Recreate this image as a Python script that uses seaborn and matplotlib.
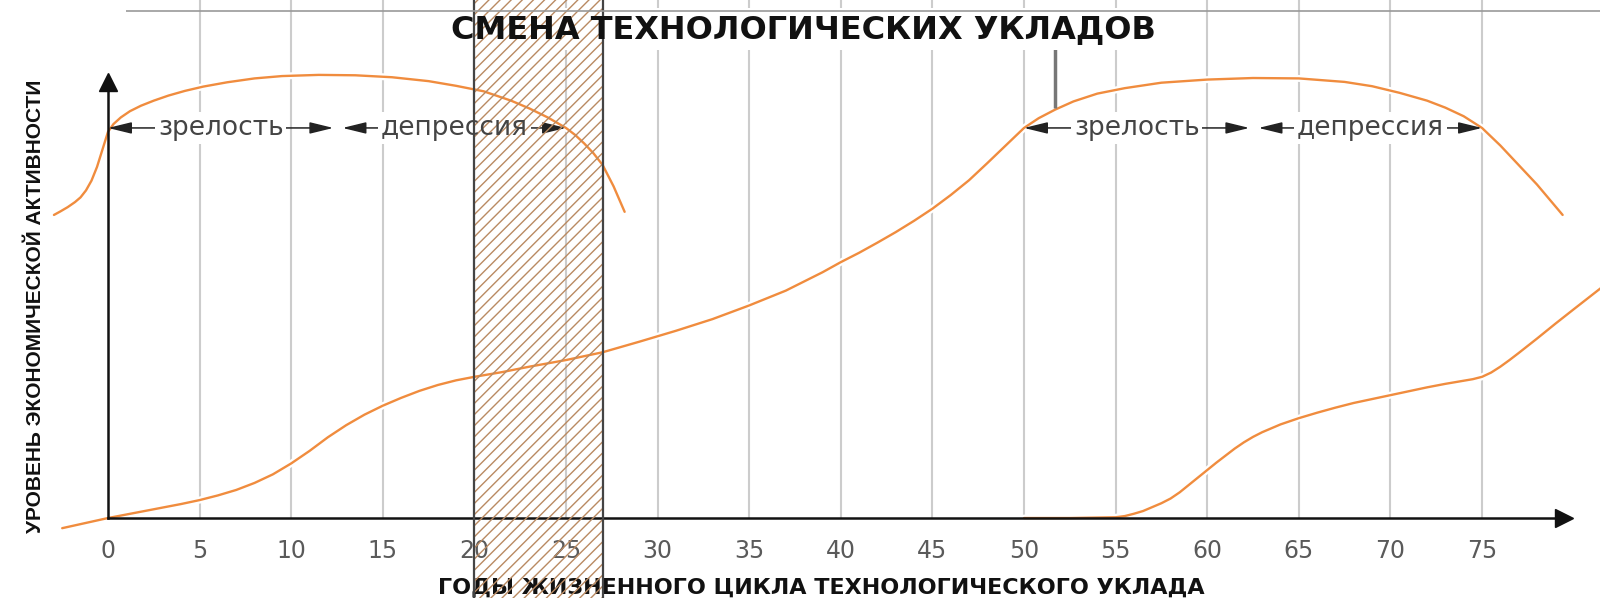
# Смена технологических укладов - recreation with seaborn

import matplotlib
matplotlib.use("Agg")
import pandas as pd
import matplotlib.pyplot as plt
import matplotlib.patheffects as pe
import seaborn as sns

# Data
# wave 1: end of the previous cycle (maturity + depression)
years_1 = [-2.95, -2.6, -2.2, -1.8, -1.5, -1.2, -0.9, -0.6, -0.4, -0.2, 0, 0.3, 0.7, 1.2, 1.8,
           2.5, 3.3, 4.2, 5.2, 6.5, 8.0, 9.5, 11.5, 13.5, 15.5, 17.5, 19.0, 20.5, 22.0, 23.0,
           24.0, 25.0, 25.5, 26.0, 26.5, 27.0, 27.6, 28.2]
level_1 = [0.777, 0.786, 0.797, 0.81, 0.822, 0.84, 0.865, 0.9, 0.93, 0.96, 0.99, 1.01, 1.027,
           1.043, 1.057, 1.07, 1.083, 1.095, 1.106, 1.117, 1.127, 1.133, 1.136, 1.135, 1.13,
           1.12, 1.108, 1.094, 1.07, 1.05, 1.027, 1.0, 0.982, 0.96, 0.935, 0.905, 0.85, 0.785]

# wave 2: the current cycle
years_2 = [-2.5, -1.25, 0, 1, 2, 3, 4, 5, 6, 7, 8, 9, 10, 11, 12, 13, 14, 15, 16, 17, 18, 19,
           20, 21.5, 23, 25, 27, 29, 31, 33, 35, 37, 39, 40, 41, 42, 43, 44, 45, 46, 47, 48, 49,
           50, 50.8, 51.7, 52.7, 54, 55.5, 57.5, 60, 62.5, 65, 67.5, 69, 70.5, 72, 73, 74, 75,
           76, 77, 78, 79.4]
level_2 = [-0.026, -0.013, 0.0, 0.009, 0.018, 0.027, 0.036, 0.046, 0.058, 0.072, 0.09, 0.112,
           0.14, 0.172, 0.207, 0.238, 0.265, 0.288, 0.308, 0.326, 0.341, 0.353, 0.362, 0.374,
           0.388, 0.405, 0.425, 0.452, 0.48, 0.51, 0.545, 0.583, 0.63, 0.656, 0.68, 0.706, 0.733,
           0.762, 0.793, 0.828, 0.866, 0.91, 0.955, 1.0, 1.025, 1.047, 1.068, 1.088, 1.102,
           1.116, 1.124, 1.128, 1.127, 1.118, 1.107, 1.09, 1.07, 1.052, 1.03, 1.0, 0.955, 0.905,
           0.855, 0.777]

# wave 3: the next cycle
years_3 = [50, 52.5, 55, 55.5, 56, 56.5, 57, 57.5, 58, 58.5, 59, 59.5, 60, 60.5, 61, 61.5, 62,
           62.5, 63, 64, 65, 66, 67, 68, 69, 70, 71, 72, 73, 74, 74.5, 75, 75.5, 76, 76.5, 77,
           78, 79, 80, 81.5]
level_3 = [0.0, 0.0, 0.002, 0.005, 0.011, 0.018, 0.028, 0.038, 0.05, 0.066, 0.085, 0.104,
           0.123, 0.142, 0.16, 0.178, 0.194, 0.208, 0.22, 0.24, 0.256, 0.27, 0.283, 0.295,
           0.305, 0.315, 0.325, 0.335, 0.344, 0.352, 0.356, 0.362, 0.373, 0.388, 0.405, 0.423,
           0.46, 0.498, 0.535, 0.59]

tick_years = list(range(0, 80, 5))
grid_years = list(range(5, 80, 5))
change_band = (20, 27)
stage_names = ["зрелость", "депрессия", "зрелость", "депрессия"]
stage_start = [0, 12.8, 50, 62.8]
stage_end = [12.3, 25, 62.3, 75]
maturity_level = 1.0
pointer_year = 51.7

title = "СМЕНА ТЕХНОЛОГИЧЕСКИХ УКЛАДОВ"
x_label = "ГОДЫ ЖИЗНЕННОГО ЦИКЛА ТЕХНОЛОГИЧЕСКОГО УКЛАДА"
y_label = "УРОВЕНЬ ЭКОНОМИЧЕСКОЙ АКТИВНОСТИ"

ORANGE = "#F08C3E"

df = pd.concat([
    pd.DataFrame({"year": years_1, "level": level_1, "wave": "1"}),
    pd.DataFrame({"year": years_2, "level": level_2, "wave": "2"}),
    pd.DataFrame({"year": years_3, "level": level_3, "wave": "3"}),
])

sns.set_theme(style="white")
plt.rcParams["font.family"] = ["DejaVu Sans"]
plt.rcParams["hatch.linewidth"] = 1.0

fig = plt.figure(figsize=(16, 5.98), dpi=100)
ax = fig.add_axes([0, 0, 1, 1])
ax.set_xlim(-5.895, 81.44)
ax.set_ylim(-0.205, 1.328)

# grid
ax.vlines(grid_years, 0, 1.4, colors="#cccccc", lw=1.5, zorder=1)
ax.hlines(1.30, 1.0, 82, colors="#999999", lw=1.2, zorder=4)

# curves
sns.lineplot(data=df, x="year", y="level", hue="wave", palette=[ORANGE] * 3,
             estimator=None, sort=False, legend=False, ax=ax, lw=1.7, zorder=3,
             path_effects=[pe.withStroke(linewidth=5, foreground="white")])

# axes with arrows
for s in ["top", "right"]:
    ax.spines[s].set_visible(False)
ax.spines["left"].set_position(("data", 0))
ax.spines["bottom"].set_position(("data", 0))
ax.spines["bottom"].set_bounds(0, 79.5)
ax.spines["left"].set_bounds(0, 1.117)
for s in ["left", "bottom"]:
    ax.spines[s].set_color("#111111")
    ax.spines[s].set_linewidth(1.8)
    ax.spines[s].set_zorder(3.2)
ax.plot(79.5, 0, ">", ms=13, color="#111111", clip_on=False, zorder=3.2)
ax.plot(0, 1.117, "^", ms=13, color="#111111", clip_on=False, zorder=3.2)

ax.set_xticks(tick_years)
ax.set_xticklabels([str(t) for t in tick_years])
ax.set_yticks([])
ax.tick_params(axis="x", length=0, pad=15, labelsize=17, labelcolor="#5a5a5a")

# stage arrows
for name, x0, x1 in zip(stage_names, stage_start, stage_end):
    ax.annotate("", xy=(x1, maturity_level), xytext=(x0, maturity_level),
                arrowprops=dict(arrowstyle="<|-|>,head_length=0.9,head_width=0.22",
                                color="#222222", lw=1.1, shrinkA=0, shrinkB=0,
                                mutation_scale=16), zorder=3.5)
    mid = (x0 + x1) / 2
    ax.text(mid, maturity_level, name, ha="center", va="center", fontsize=19, color="none",
            bbox=dict(fc="white", ec="none", pad=2), zorder=3.6)
    ax.text(mid, maturity_level, name, ha="center", va="center", fontsize=19,
            color="#444444", zorder=5)

# band of technological change
ax.axvspan(*change_band, facecolor="none", edgecolor="#B98A62", hatch="///", lw=0, zorder=3.7)
for xb in change_band:
    ax.axvline(xb, color="#444444", lw=1.6, zorder=3.8)

# title + pointer
ax.text(0.502, 0.951, title, transform=ax.transAxes, ha="center", va="center", fontsize=23,
        fontweight="bold", color="none", bbox=dict(fc="white", ec="none", pad=4), zorder=3.6)
ax.text(0.502, 0.951, title, transform=ax.transAxes, ha="center", va="center", fontsize=23,
        fontweight="bold", color="#111111", zorder=5)
ax.vlines(pointer_year, 1.051, 1.208, colors="#777777", lw=2.5, zorder=3.5)

# axis labels
ax.set_xlabel(x_label, fontsize=16, fontweight="bold", color="#111111", va="center")
ax.xaxis.set_label_coords(821 / 1600, 1 - 588 / 598)
ax.set_ylabel(y_label, fontsize=15, fontweight="bold", color="#111111", va="center",
              family=["Liberation Sans", "DejaVu Sans"])
ax.yaxis.set_label_coords(36 / 1600, 1 - 306 / 598)

fig.savefig("out.png", dpi=100)
